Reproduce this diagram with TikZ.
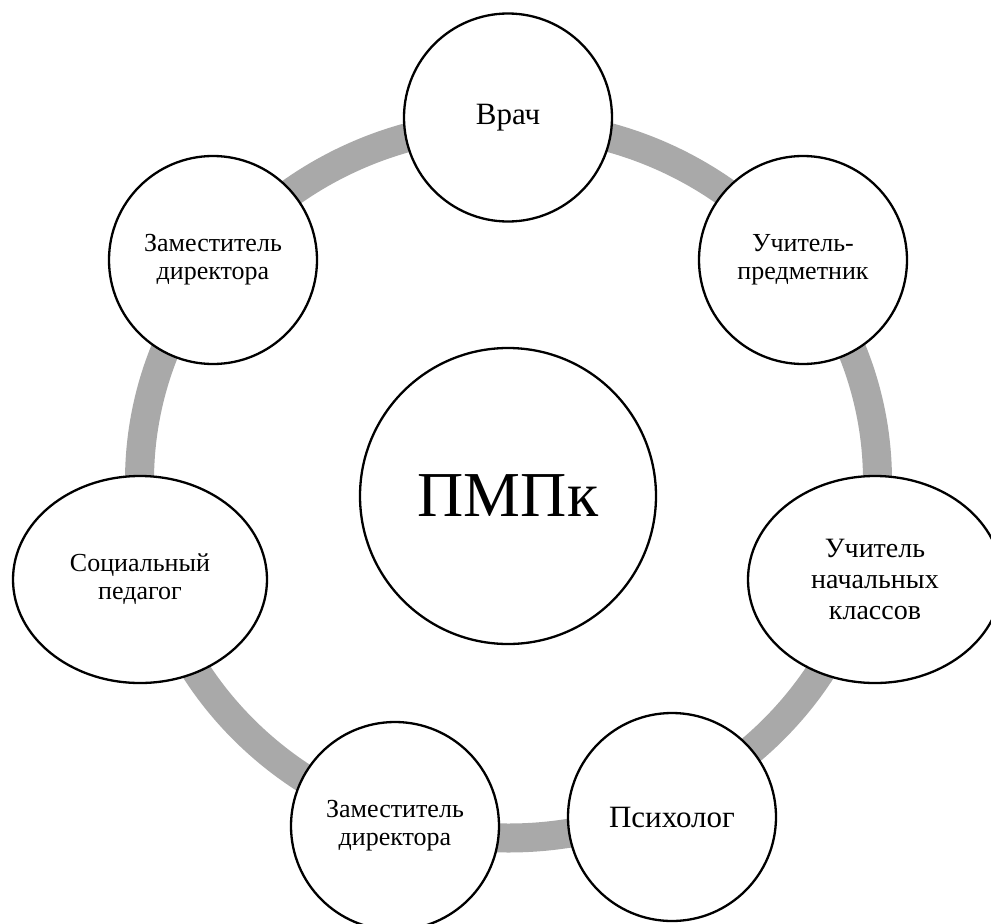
\documentclass[tikz,border=0pt]{standalone}
\usepackage{fontspec}
\setmainfont{Liberation Serif}
\usetikzlibrary{shapes.geometric}
\definecolor{ringgray}{HTML}{A9A9A9}
\tikzset{
  member/.style={circle, draw=black, line width=2.3pt, fill=white, minimum size=208pt, inner sep=0pt, align=center},
  memberoval/.style={ellipse, draw=black, line width=2.3pt, fill=white, minimum width=254pt, minimum height=207pt, inner sep=0pt, align=center},
  hub/.style={circle, draw=black, line width=2.3pt, fill=white, minimum size=296pt, inner sep=0pt, align=center},
  smalltext/.style={font=\fontsize{26}{28}\selectfont},
  midtext/.style={font=\fontsize{28}{31}\selectfont},
  bigtext/.style={font=\fontsize{31}{34}\selectfont},
  hubtext/.style={font=\fontsize{64}{70}\selectfont},
  ring/.style={draw=ringgray, line width=29pt}
}
\begin{document}
\begin{tikzpicture}[x=1pt,y=-1pt]
\useasboundingbox (0,0) rectangle (991,924);
\draw[ring] (508.5,481) ellipse [x radius=369pt, y radius=357pt];
\node[hub, hubtext] (pmpk) at (508,496) {ПМПк};
\node[member, bigtext] (vrach) at (508,117.5) {\raisebox{-2pt}{Врач}};
\node[member, smalltext] (uchpred) at (803,260) {Учитель-\\предметник};
\node[memberoval, midtext] (uchnach) at (875,579.5) {Учитель\\начальных\\классов};
\node[member, bigtext] (psych) at (672,817) {\raisebox{-2pt}{Психолог}};
\node[member, smalltext] (zam2) at (395,826) {Заместитель\\директора};
\node[memberoval, smalltext] (soc) at (140,579.5) {Социальный\\педагог};
\node[member, smalltext] (zam1) at (213,260) {Заместитель\\директора};
\end{tikzpicture}
\end{document}
